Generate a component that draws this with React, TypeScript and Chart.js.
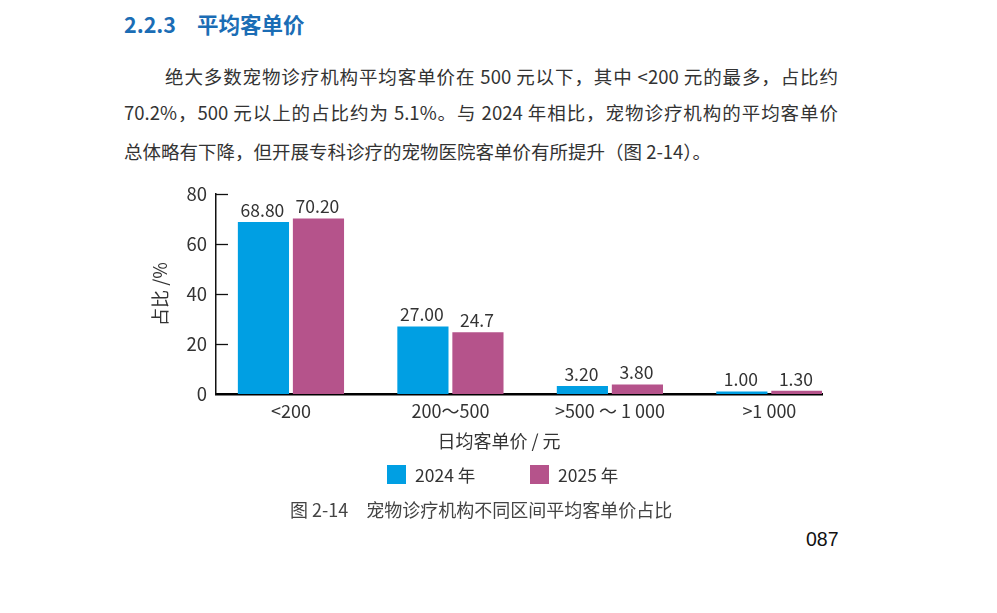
import React, { useEffect, useRef } from "react";
import { Chart, registerables } from "chart.js";

Chart.register(...registerables);

const categories = ["<200", "200～500", ">500 ～ 1 000", ">1 000"];
const series2024 = [68.8, 27.0, 3.2, 1.0];
const series2025 = [70.2, 24.7, 3.8, 1.3];
const labels2024 = ["68.80", "27.00", "3.20", "1.00"];
const labels2025 = ["70.20", "24.7", "3.80", "1.30"];
const seriesNames = ["2024 年", "2025 年"];
const seriesColors = ["#009FE3", "#B5538B"];
const xTitle = "日均客单价 / 元";
const yTitle = "占比 /%";
const yMin = 0;
const yMax = 80;
const yStep = 20;
const xMin = -0.47;
const xMax = 3.33;

const FONT = '"Noto Sans CJK SC", "Noto Sans", sans-serif';
const TEXT = "#333333";

const toPoints = (vals: number[]) => vals.map((v, i) => ({ x: i, y: v }));

const valueLabelPlugin = {
  id: "valueLabels",
  afterDatasetsDraw(chart: any) {
    const ctx = chart.ctx;
    const labelSets = [labels2024, labels2025];
    ctx.save();
    ctx.font = `17.5px ${FONT}`;
    ctx.fillStyle = TEXT;
    ctx.textAlign = "center";
    ctx.textBaseline = "bottom";
    chart.data.datasets.forEach((ds: any, di: number) => {
      const meta = chart.getDatasetMeta(di);
      meta.data.forEach((el: any, i: number) => {
        ctx.fillText(labelSets[di][i], el.x - 1, el.y - 3);
      });
    });
    ctx.restore();
  },
};

const innerTickPlugin = {
  id: "innerTicks",
  afterDraw(chart: any) {
    const ctx = chart.ctx;
    const ys = chart.scales.y;
    const left = chart.chartArea.left;
    ctx.save();
    ctx.strokeStyle = "#111";
    ctx.lineWidth = 1.3;
    ys.ticks.forEach((t: any) => {
      if (t.value === yMin) return;
      const y = Math.round(ys.getPixelForValue(t.value)) + 0.5;
      ctx.beginPath();
      ctx.moveTo(left, y);
      ctx.lineTo(left + 12, y);
      ctx.stroke();
    });
    ctx.restore();
  },
};

const titleLegendPlugin = {
  id: "titleLegend",
  afterDraw(chart: any) {
    const ctx = chart.ctx;
    const ca = chart.chartArea;
    const cx = (ca.left + ca.right) / 2;
    ctx.save();
    ctx.font = `18px ${FONT}`;
    ctx.fillStyle = TEXT;
    ctx.textAlign = "center";
    ctx.textBaseline = "middle";
    ctx.fillText(xTitle, cx - 20, ca.bottom + 47);
    const offsets = [-132, 11];
    const top = ca.bottom + 71;
    ctx.font = `17.5px ${FONT}`;
    ctx.textAlign = "left";
    chart.data.datasets.forEach((ds: any, i: number) => {
      const x = cx + offsets[i];
      ctx.fillStyle = ds.backgroundColor;
      ctx.fillRect(x, top, 19, 19);
      ctx.fillStyle = TEXT;
      ctx.fillText(ds.label, x + 28, top + 10);
    });
    ctx.restore();
  },
};

function BarChart() {
  const ref = useRef<HTMLCanvasElement | null>(null);
  useEffect(() => {
    if (!ref.current) return;
    const chart = new Chart(ref.current, {
      type: "bar",
      data: {
        datasets: [
          {
            label: seriesNames[0],
            data: toPoints(series2024),
            backgroundColor: seriesColors[0],
            borderWidth: 0,
            categoryPercentage: 0.69,
            barPercentage: 0.93,
          },
          {
            label: seriesNames[1],
            data: toPoints(series2025),
            backgroundColor: seriesColors[1],
            borderWidth: 0,
            categoryPercentage: 0.69,
            barPercentage: 0.93,
          },
        ],
      },
      options: {
        animation: false,
        responsive: false,
        maintainAspectRatio: false,
        layout: { padding: { top: 0, right: 38, bottom: 49, left: 0 } },
        plugins: {
          legend: { display: false },
          tooltip: { enabled: false },
        },
        scales: {
          x: {
            type: "linear",
            min: xMin,
            max: xMax,
            offset: false,
            bounds: "data",
            grid: { display: false, drawTicks: false },
            border: { display: true, color: "#000", width: 2.5 },
            afterBuildTicks: (s: any) => {
              s.ticks = categories.map((_, i) => ({ value: i }));
            },
            ticks: {
              font: { family: FONT, size: 18 },
              color: TEXT,
              padding: 6,
              maxRotation: 0,
              autoSkip: false,
              callback: (v: any) => categories[v] ?? "",
            },
            title: { display: false },
            afterFit: (s: any) => {
              s.height = 57;
            },
          },
          y: {
            min: yMin,
            max: yMax,
            ticks: {
              stepSize: yStep,
              font: { family: FONT, size: 18.5 },
              color: TEXT,
              padding: 9,
            },
            grid: { display: false, drawTicks: false },
            border: { display: true, color: "#111", width: 1.5 },
            title: {
              display: true,
              text: yTitle,
              font: { family: FONT, size: 18 },
              color: TEXT,
              padding: { top: 9, bottom: 0 },
            },
            afterFit: (s: any) => {
              s.width = 76;
            },
          },
        },
      },
      plugins: [valueLabelPlugin, innerTickPlugin, titleLegendPlugin],
    } as any);
    return () => chart.destroy();
  }, []);
  return (
    <canvas
      ref={ref}
      width={720}
      height={326}
      style={{ position: "absolute", left: 140, top: 174, width: 720, height: 326 }}
    />
  );
}

export default function App() {
  const base: React.CSSProperties = {
    position: "absolute",
    fontFamily: FONT,
    color: TEXT,
    whiteSpace: "nowrap",
    lineHeight: "1",
  };
  const just: React.CSSProperties = {
    ...base,
    textAlign: "justify",
    textAlignLast: "justify" as any,
    fontSize: 18.5,
  };
  return (
    <div style={{ position: "absolute", left: 0, top: 0, width: 997, height: 613, background: "#fff", overflow: "hidden" }}>
      <div style={{ ...base, left: 124, top: 13, fontSize: 21.5, fontWeight: 700, color: "#1B6DB5" }}>
        2.2.3<span style={{ display: "inline-block", width: 21 }} />平均客单价
      </div>
      <div style={{ ...just, left: 165, top: 67, width: 673 }}>
        绝大多数宠物诊疗机构平均客单价在 500 元以下，其中 &lt;200 元的最多，占比约
      </div>
      <div style={{ ...just, left: 124, top: 103, width: 714 }}>
        70.2%，500 元以上的占比约为 5.1%。与 2024 年相比，宠物诊疗机构的平均客单价
      </div>
      <div style={{ ...base, left: 124, top: 142, fontSize: 18.5 }}>
        总体略有下降，但开展专科诊疗的宠物医院客单价有所提升（图 2-14）。
      </div>
      <BarChart />
      <div style={{ ...base, left: 290, top: 500, fontSize: 18, color: "#444" }}>
        图 2-14<span style={{ display: "inline-block", width: 18 }} />宠物诊疗机构不同区间平均客单价占比
      </div>
      <div style={{ ...base, left: 806, top: 530, fontSize: 19.5, color: "#111", fontFamily: '"Liberation Sans", Arial, sans-serif' }}>
        087
      </div>
    </div>
  );
}
